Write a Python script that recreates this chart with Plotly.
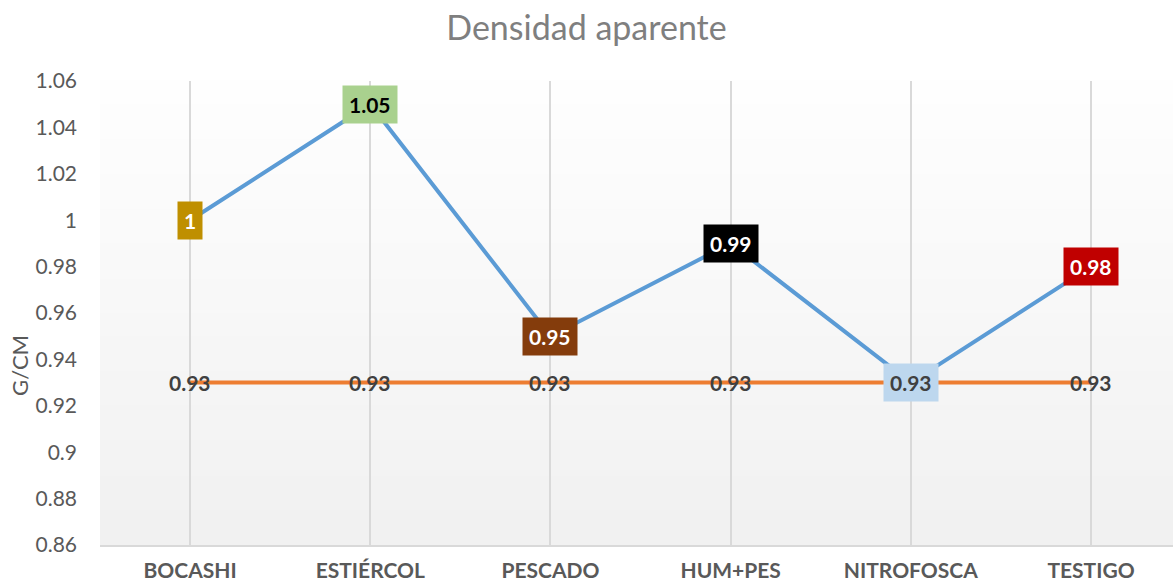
import plotly.graph_objects as go

categories = ["BOCASHI", "ESTIÉRCOL", "PESCADO", "HUM+PES", "NITROFOSCA", "TESTIGO"]
densidad = [1.00, 1.05, 0.95, 0.99, 0.93, 0.98]
referencia = [0.93, 0.93, 0.93, 0.93, 0.93, 0.93]
densidad_labels = ["1", "1.05", "0.95", "0.99", "0.93", "0.98"]
referencia_labels = ["0.93"] * 6
y_ticks = [0.86, 0.88, 0.9, 0.92, 0.94, 0.96, 0.98, 1, 1.02, 1.04, 1.06]
y_tick_labels = ["0.86", "0.88", "0.9", "0.92", "0.94", "0.96", "0.98", "1", "1.02", "1.04", "1.06"]

# colored boxes behind each label of the main series
box_colors = ["#bf8f00", "#a9d18e", "#843c0c", "#000000", "#bdd7ee", "#c00000"]
box_text_colors = ["white", "black", "white", "white", "#404040", "white"]

FONT = "Lato"
GREY = "#595959"

fig = go.Figure()

fig.add_trace(go.Scatter(
    x=categories, y=referencia, mode="lines",
    line=dict(color="#ed7d31", width=4), hoverinfo="skip", showlegend=False,
))
fig.add_trace(go.Scatter(
    x=categories, y=densidad, mode="lines",
    line=dict(color="#5b9bd5", width=4), hoverinfo="skip", showlegend=False,
))

annotations = []
for cat, val, lab in zip(categories, referencia, referencia_labels):
    annotations.append(dict(
        x=cat, y=val, text=lab, showarrow=False,
        font=dict(family=FONT, size=21, color="#404040", weight="bold"),
    ))
for cat, val, lab, bc, tc in zip(categories, densidad, densidad_labels, box_colors, box_text_colors):
    annotations.append(dict(
        x=cat, y=val, text=lab, showarrow=False, bgcolor=bc, borderpad=6,
        font=dict(family=FONT, size=21, color=tc, weight="bold"),
    ))
annotations.append(dict(
    xref="paper", yref="paper", x=-0.0746, y=0.388, text="G/CM", textangle=-90,
    xanchor="center", yanchor="middle",
    showarrow=False, font=dict(family=FONT, size=22, color=GREY),
))

# soft vertical gradient for the plot area, white at top to light grey at bottom
shapes = []
n_steps = 40
for i in range(n_steps):
    frac = i / n_steps
    shade = int(241 + 14 * frac)
    shapes.append(dict(
        type="rect", xref="paper", yref="paper", layer="below",
        x0=0, x1=1, y0=frac, y1=frac + 1 / n_steps + 0.002,
        fillcolor=f"rgb({shade},{shade},{shade})", line=dict(width=0),
    ))

fig.update_layout(
    width=1173, height=586,
    margin=dict(l=100, r=0, t=81, b=41),
    paper_bgcolor="white", plot_bgcolor="white",
    title=dict(
        text="Densidad aparente", x=0.5, xanchor="center", y=0.952, yanchor="middle",
        font=dict(family=FONT, size=34, color="#7f7f7f"),
    ),
    annotations=annotations,
    shapes=shapes,
    showlegend=False,
)
fig.update_xaxes(
    range=[-0.5, 5.455], showgrid=True, gridcolor="#d9d9d9", gridwidth=1.5,
    showline=True, linecolor="#d9d9d9", linewidth=2, ticks="", zeroline=False,
    ticklabelstandoff=6,
    tickfont=dict(family=FONT, size=21, color=GREY, weight="bold"),
)
fig.update_yaxes(
    range=[0.86, 1.06], tickvals=y_ticks, ticktext=y_tick_labels,
    showgrid=False, zeroline=False, showline=False, ticks="",
    ticklabelstandoff=22,
    tickfont=dict(family=FONT, size=21, color=GREY),
)

fig.write_html(
    "out.html",
    config={"displayModeBar": False},
    post_script="document.body.style.margin='0';",
)
